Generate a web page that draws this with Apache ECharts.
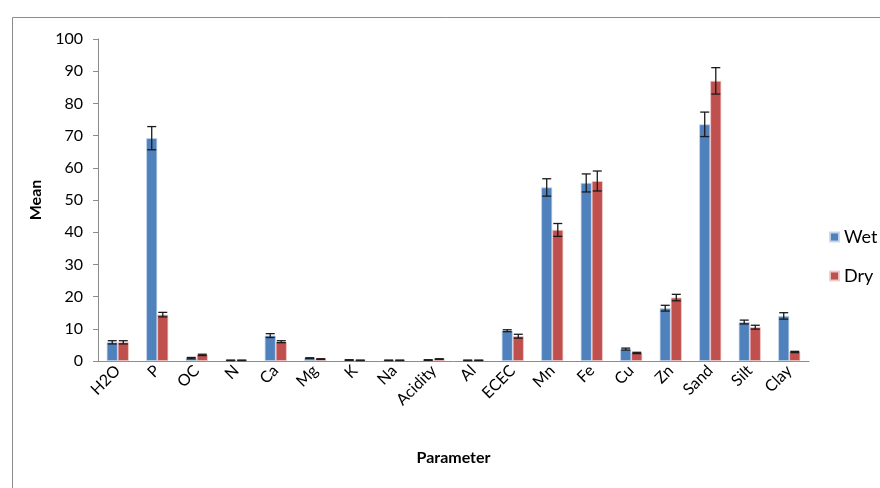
<!DOCTYPE html>
<html>
<head>
<meta charset="utf-8">
<script src="https://cdn.jsdelivr.net/npm/echarts@6/dist/echarts.min.js"></script>
<style>
  html, body { margin: 0; padding: 0; background: #fff; }
  #chart { width: 880px; height: 488px; }
</style>
</head>
<body>
<div id="chart"></div>
<script>
// Soil parameters, wet vs dry season means with standard errors
const categories = ['H2O', 'P', 'OC', 'N', 'Ca', 'Mg', 'K', 'Na', 'Acidity', 'Al',
  'ECEC', 'Mn', 'Fe', 'Cu', 'Zn', 'Sand', 'Silt', 'Clay'];
const wetMean = [5.8, 69.2, 0.9, 0.2, 7.9, 0.9, 0.3, 0.2, 0.3, 0.2,
  9.4, 53.9, 55.3, 3.7, 16.4, 73.5, 12.1, 14.0];
const dryMean = [5.8, 14.4, 1.9, 0.2, 6.0, 0.6, 0.2, 0.2, 0.6, 0.2,
  7.7, 40.7, 55.9, 2.5, 19.7, 87.0, 10.5, 2.8];
const wetErr = [0.5, 3.6, 0.2, 0.1, 0.6, 0.1, 0.1, 0.1, 0.1, 0.1,
  0.3, 2.7, 2.8, 0.3, 0.9, 3.8, 0.6, 1.0];
const dryErr = [0.5, 0.7, 0.2, 0.1, 0.3, 0.1, 0.1, 0.1, 0.1, 0.1,
  0.6, 2.0, 3.1, 0.2, 1.0, 4.1, 0.6, 0.2];
const yTicks = [0, 10, 20, 30, 40, 50, 60, 70, 80, 90, 100];

const font = 'Lato, "Open Sans", sans-serif';
const categoryGap = 0.44;              // share of each band left empty
const barShare = (1 - categoryGap) / 2; // width of one bar relative to the band

function errorSeries(name, means, errs, side) {
  return {
    type: 'custom',
    name: name + ' error',
    silent: true,
    z: 5,
    data: means.map((m, i) => [i, m - errs[i], m + errs[i]]),
    renderItem: function (params, api) {
      const band = api.size([1, 0])[0];
      const xCenter = api.coord([api.value(0), 0])[0] + side * band * barShare / 2;
      const low = api.coord([api.value(0), api.value(1)])[1];
      const high = api.coord([api.value(0), api.value(2)])[1];
      const cap = 4.5;
      const style = { stroke: '#1a1a1a', lineWidth: 1.3 };
      return {
        type: 'group',
        children: [
          { type: 'line', shape: { x1: xCenter, y1: high, x2: xCenter, y2: low }, style: style },
          { type: 'line', shape: { x1: xCenter - cap, y1: high, x2: xCenter + cap, y2: high }, style: style },
          { type: 'line', shape: { x1: xCenter - cap, y1: low, x2: xCenter + cap, y2: low }, style: style }
        ]
      };
    }
  };
}

const chart = echarts.init(document.getElementById('chart'));
chart.setOption({
  animation: false,
  backgroundColor: '#fff',
  graphic: [{
    type: 'rect',
    left: 10, top: 15,
    shape: { width: 900, height: 520 },
    style: { fill: 'none', stroke: '#8c8c8c', lineWidth: 1 },
    silent: true, z: -10
  }],
  grid: { left: 98, right: 71, top: 39, bottom: 127 },
  legend: {
    orient: 'vertical',
    left: 824, top: 223,
    itemGap: 21,
    itemWidth: 9, itemHeight: 9,
    icon: 'rect',
    data: ['Wet', 'Dry'],
    textStyle: { fontFamily: font, fontSize: 18, color: '#000', padding: [0, 0, 0, 0] }
  },
  xAxis: {
    type: 'category',
    data: categories,
    name: 'Parameter',
    nameLocation: 'middle',
    nameGap: 89,
    nameTextStyle: { fontFamily: font, fontSize: 16, fontWeight: 'bold', color: '#000' },
    axisLine: { lineStyle: { color: '#8c8c8c' } },
    axisTick: { length: 6, lineStyle: { color: '#8c8c8c' } },
    axisLabel: { rotate: 45, fontFamily: font, fontSize: 16, color: '#000', margin: 7 }
  },
  yAxis: {
    type: 'value',
    min: yTicks[0], max: yTicks[yTicks.length - 1], interval: 10,
    name: 'Mean',
    nameLocation: 'middle',
    nameGap: 54,
    nameTextStyle: { fontFamily: font, fontSize: 16, fontWeight: 'bold', color: '#000' },
    axisLine: { show: true, lineStyle: { color: '#8c8c8c' } },
    axisTick: { show: true, length: 5, lineStyle: { color: '#8c8c8c' } },
    splitLine: { show: false },
    axisLabel: { fontFamily: font, fontSize: 16, color: '#000', margin: 15 }
  },
  series: [
    {
      name: 'Wet', type: 'bar', data: wetMean,
      barGap: '0%', barCategoryGap: (categoryGap * 100) + '%',
      itemStyle: { color: '#4F81BD', borderColor: 'rgba(200,215,235,0.9)', borderWidth: 0.8 }
    },
    {
      name: 'Dry', type: 'bar', data: dryMean,
      barGap: '0%', barCategoryGap: (categoryGap * 100) + '%',
      itemStyle: { color: '#C0504D', borderColor: 'rgba(240,205,205,0.9)', borderWidth: 0.8 }
    },
    errorSeries('Wet', wetMean, wetErr, -1),
    errorSeries('Dry', dryMean, dryErr, 1)
  ]
});
</script>
</body>
</html>
